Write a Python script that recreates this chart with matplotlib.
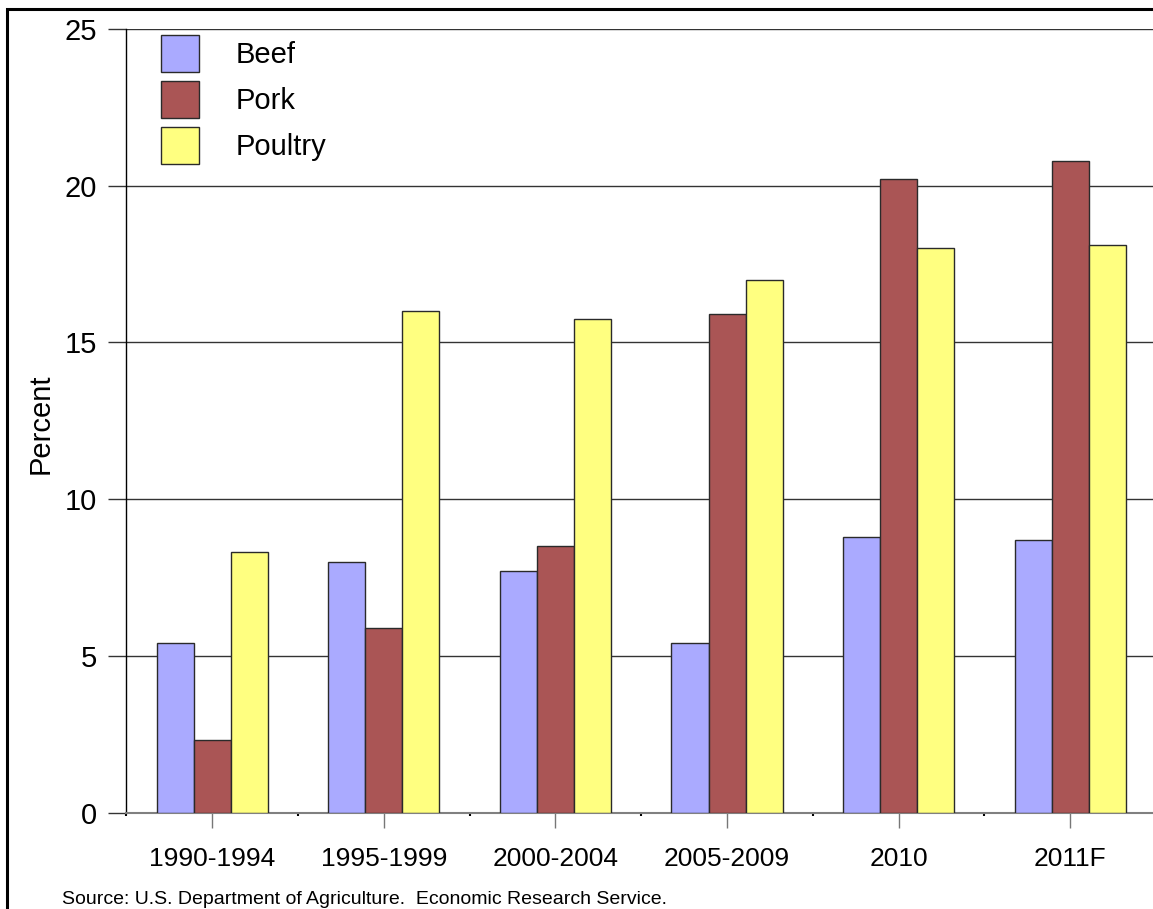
import numpy as np
import matplotlib
matplotlib.use("Agg")
import matplotlib.pyplot as plt
from matplotlib.patches import Rectangle

plt.rcParams['font.family'] = ['Liberation Sans', 'DejaVu Sans']

# Data (share of production exported, percent)
categories = ['1990-1994', '1995-1999', '2000-2004', '2005-2009', '2010', '2011F']
beef = [5.4, 8.0, 7.7, 5.4, 8.8, 8.7]
pork = [2.3, 5.9, 8.5, 15.9, 20.2, 20.8]
poultry = [8.3, 16.0, 15.75, 17.0, 18.0, 18.1]

W, H = 1153, 909
fig = plt.figure(figsize=(W / 100, H / 100), dpi=100)

# outer frame
fig.patches.append(Rectangle((7 / W, -0.05), 1.2, (H - 9) / H + 0.05,
                             transform=fig.transFigure, fill=False,
                             edgecolor='black', lw=2.2, zorder=0))

ax = fig.add_axes([126.5 / W, (H - 812.5) / H, (1156 - 126.5) / W, (812.5 - 29) / H])
ax.set_facecolor('none')

x = np.arange(len(categories))
bw = 0.216
edge = '#2a2a2a'
ax.bar(x - bw, beef, bw, color='#aaaaff', edgecolor=edge, lw=1, label='Beef', zorder=3)
ax.bar(x, pork, bw, color='#aa5555', edgecolor=edge, lw=1, label='Pork', zorder=3)
ax.bar(x + bw, poultry, bw, color='#ffff80', edgecolor=edge, lw=1, label='Poultry', zorder=3)

ax.set_xlim(-0.5, len(categories) - 0.5)
ax.set_ylim(0, 25)
ax.set_yticks([0, 5, 10, 15, 20, 25])
ax.yaxis.grid(True, color='#333333', lw=1)
ax.set_axisbelow(True)

ax.set_xticks(x)
ax.set_xticklabels(categories, fontsize=19)
ax.set_xticks(np.arange(len(categories) + 1) - 0.5, minor=True)
ax.tick_params(axis='x', which='major', length=11, width=1, color='#777777',
               direction='out', pad=14)
ax.tick_params(axis='x', which='minor', length=2, width=1.5, color='black',
               direction='out')
ax.tick_params(axis='y', length=13, width=1, color='#333333', labelsize=21, pad=8)

for s in ['top', 'right']:
    ax.spines[s].set_visible(False)
ax.spines['left'].set_color('black')
ax.spines['left'].set_linewidth(1)
ax.spines['bottom'].set_color('#808080')
ax.spines['bottom'].set_linewidth(1.5)

ax.set_ylabel('Percent', fontsize=21)
ax.yaxis.set_label_coords((55 - 126.5) / (1156 - 126.5), (812.5 - 424) / (812.5 - 29))

ax.legend(loc='upper left', bbox_to_anchor=(161 / W, (H - 35) / H),
          bbox_transform=fig.transFigure, frameon=False, fontsize=21,
          handlelength=1.3, handleheight=1.57, handletextpad=1.27,
          labelspacing=0.31, borderpad=0, borderaxespad=0)

fig.text(62 / W, (H - 899) / H, 'Source: U.S. Department of Agriculture.  Economic Research Service.',
         fontsize=14, va='center', ha='left')

fig.savefig('out.png', dpi=100)
